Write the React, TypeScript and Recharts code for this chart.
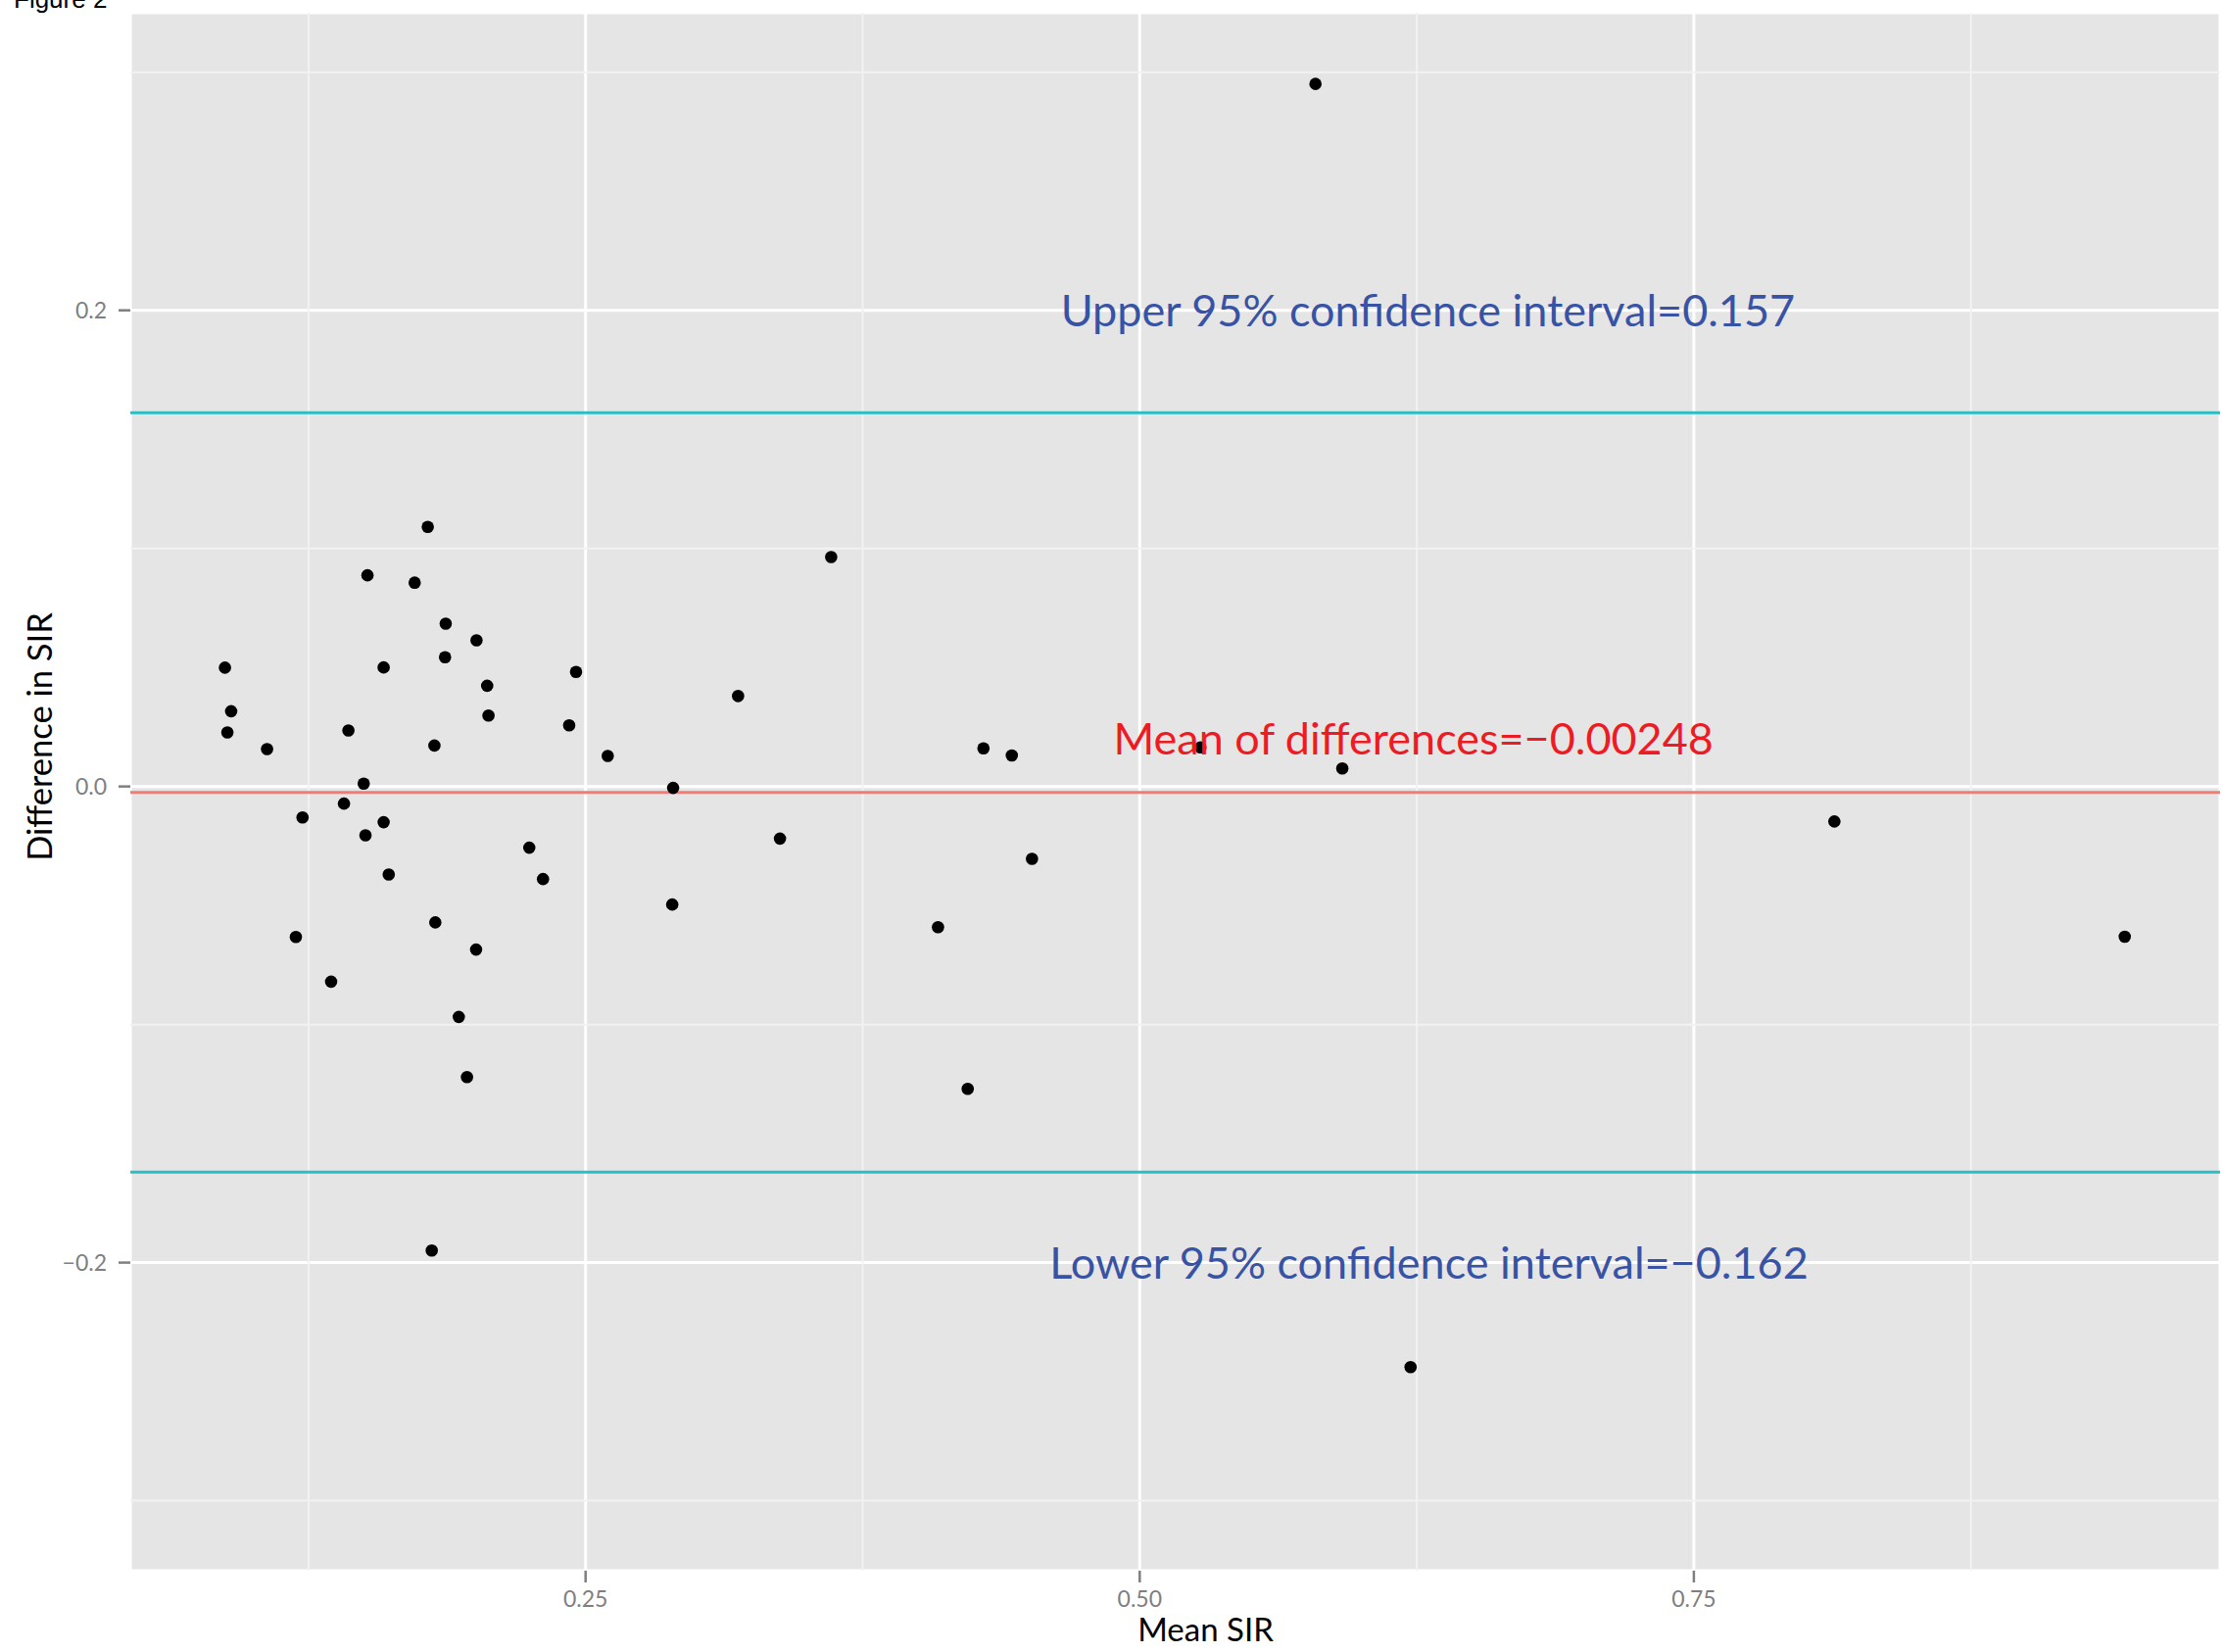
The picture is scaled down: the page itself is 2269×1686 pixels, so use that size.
import React from 'react'
import {
  ScatterChart, Scatter, XAxis, YAxis, CartesianGrid, ReferenceLine, ReferenceDot, Label,
} from 'recharts'

// Bland-Altman points
const meanSir = [
  0.1788, 0.1516, 0.1729, 0.1869, 0.2008, 0.1866, 0.0873, 0.1589, 0.2457, 0.2056,
  0.2062, 0.0901, 0.0884, 0.2426, 0.1430, 0.1063, 0.1818, 0.2600, 0.1499, 0.1410,
  0.1223, 0.1589, 0.1507, 0.2246, 0.1612, 0.2308, 0.1822, 0.1193, 0.2006, 0.1352,
  0.1928, 0.1965, 0.1806, 0.3608, 0.3188, 0.2895, 0.4295, 0.4423, 0.3377, 0.4514,
  0.2891, 0.4090, 0.4224, 0.6222, 0.5793, 0.5274, 0.5914, 0.8134, 0.9444,
]
const diffSir = [
  0.1090, 0.0887, 0.0856, 0.0684, 0.0614, 0.0543, 0.0499, 0.0500, 0.0481, 0.0423,
  0.0298, 0.0316, 0.0227, 0.0257, 0.0235, 0.0157, 0.0172, 0.0128, 0.0012, -0.0072,
  -0.0130, -0.0150, -0.0205, -0.0257, -0.0370, -0.0389, -0.0571, -0.0632, -0.0685, -0.0820,
  -0.0968, -0.1221, -0.1949, 0.0964, 0.0380, -0.0006, 0.0160, 0.0130, -0.0219, -0.0304,
  -0.0496, -0.0591, -0.1270, -0.2439, 0.2951, 0.0164, 0.0076, -0.0147, -0.0631,
]

const upperLimit = 0.157
const meanDiff = -0.00248
const lowerLimit = -0.162

const xTicks = [0.25, 0.5, 0.75]
const xMinor = [0.125, 0.375, 0.625, 0.875]
const yTicks = [-0.2, 0, 0.2]
const yMinor = [-0.3, -0.1, 0.1, 0.3]
const xDomain = [0.0446, 0.9874]
const yDomain = [-0.3294, 0.325]

const notes = [
  { x: 0.63, y: 0.2, text: 'Upper 95% confidence interval=0.157', color: '#3953A4' },
  { x: 0.6235, y: 0.02, text: 'Mean of differences=\u22120.00248', color: '#ED1C24' },
  { x: 0.6305, y: -0.2, text: 'Lower 95% confidence interval=\u22120.162', color: '#3953A4' },
]

const points = meanSir.map((m, i) => ({ mean: m, diff: diffSir[i] }))

const W = 2269
const H = 1686
const FONT = 'Lato, "Open Sans", sans-serif'
const GREY = '#7F7F7F'

const fmtY = (v: number) => (v < 0 ? '\u2212' : '') + Math.abs(v).toFixed(1)
const fmtX = (v: number) => v.toFixed(2)

const Dot = (p: any) => <circle cx={p.cx} cy={p.cy} r={6.3} fill="#000" />

const noteShape = (n: typeof notes[number]) => (p: any) => (
  <text x={p.cx} y={p.cy + 16} textAnchor="middle" fill={n.color}
    style={{ fontFamily: FONT, fontSize: 45 }}>
    {n.text}
  </text>
)

export default function App() {
  return (
    <div style={{ position: 'absolute', left: 0, top: 0, width: W, height: H, background: '#fff' }}>
      <div style={{
        position: 'absolute', left: 14, top: -14, fontFamily: '"Liberation Sans", Arial, sans-serif',
        fontSize: 26, lineHeight: 1, color: '#000', whiteSpace: 'nowrap',
      }}>
        Figure 2
      </div>
      <ScatterChart width={W} height={H} margin={{ top: 13, right: 3, bottom: 0, left: 0 }}>
        <CartesianGrid fill="#E5E5E5" fillOpacity={1} stroke="#FFFFFF" strokeWidth={3} />
        {xMinor.map(v => (
          <ReferenceLine key={'vx' + v} x={v} stroke="#F2F2F2" strokeWidth={2} />
        ))}
        {yMinor.map(v => (
          <ReferenceLine key={'hy' + v} y={v} stroke="#F2F2F2" strokeWidth={2} />
        ))}
        <XAxis
          type="number" dataKey="mean" domain={xDomain} ticks={xTicks} allowDataOverflow
          tickFormatter={fmtX} height={83} axisLine={false}
          tickLine={{ stroke: GREY, strokeWidth: 2.5 }} tickSize={12} tickMargin={9}
          tick={{ fill: GREY, fontSize: 23, fontFamily: FONT }}
        >
          <Label content={(props: any) => {
            const vb = props.viewBox
            return (
              <text x={vb.x + vb.width / 2 + 31} y={vb.y + 72} textAnchor="middle" fill="#000"
                style={{ fontFamily: FONT, fontSize: 33 }}>
                Mean SIR
              </text>
            )
          }} />
        </XAxis>
        <YAxis
          type="number" dataKey="diff" domain={yDomain} ticks={yTicks} allowDataOverflow
          tickFormatter={fmtY} width={133} axisLine={false}
          tickLine={{ stroke: GREY, strokeWidth: 2.5 }} tickSize={12} tickMargin={12}
          tick={{ fill: GREY, fontSize: 23, fontFamily: FONT }}
        >
          <Label content={(props: any) => {
            const vb = props.viewBox
            const cx = 53
            const cy = vb.y + vb.height / 2 - 56
            return (
              <text x={cx} y={cy} textAnchor="middle" fill="#000" transform={`rotate(-90 ${cx} ${cy})`}
                style={{ fontFamily: FONT, fontSize: 34.5 }}>
                Difference in SIR
              </text>
            )
          }} />
        </YAxis>
        <ReferenceLine y={upperLimit} stroke="#2ABFC4" strokeWidth={3} />
        <ReferenceLine y={lowerLimit} stroke="#2ABFC4" strokeWidth={3} />
        <ReferenceLine y={meanDiff} stroke="#F47A72" strokeWidth={3} />
        <Scatter data={points} shape={Dot} isAnimationActive={false} />
        {notes.map(n => (
          <ReferenceDot key={n.text} x={n.x} y={n.y} r={0} shape={noteShape(n)} />
        ))}
      </ScatterChart>
    </div>
  )
}
